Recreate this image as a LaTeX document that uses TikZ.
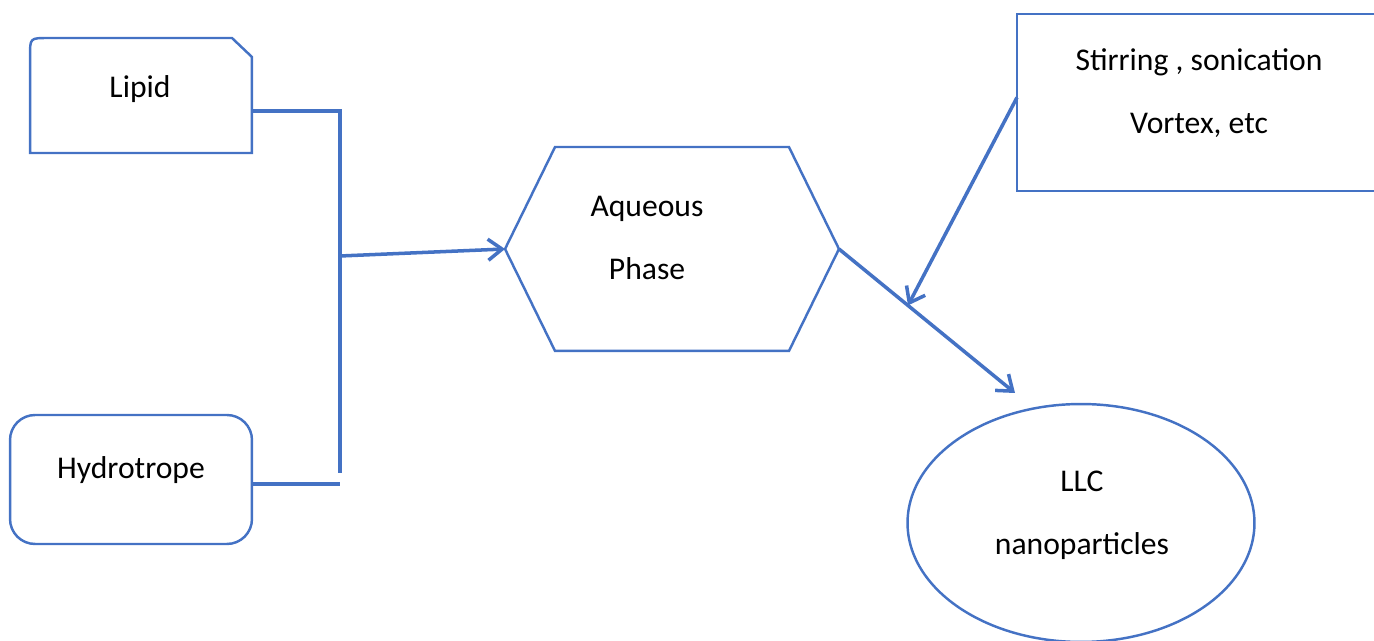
\documentclass[tikz,border=0pt]{standalone}
\usepackage{fontspec}
\setmainfont{Carlito}
\usetikzlibrary{arrows.meta,shapes.geometric,calc}
\definecolor{wordblue}{HTML}{4472C4}
\tikzset{
  outline/.style={draw=wordblue, line width=1.4pt},
  link/.style={draw=wordblue, line width=2pt},
  openarrow/.style={-{Straight Barb[length=8pt,width=12pt,line width=2pt]}},
  txt/.style={font=\fontsize{18}{36}\selectfont, inner sep=0pt, align=center},
  every node/.append style={outer sep=0pt}
}
\begin{document}
\begin{tikzpicture}[x=0.02cm, y=-0.02cm]
    \useasboundingbox (0,0) rectangle (1374,641);

    % shapes
    \node[minimum width=4.44cm, minimum height=2.3cm] (lipid) at (141,95.5) {};
    \draw[outline] (lipid.south west) -- ($(lipid.north west)+(0,18)$)
        .. controls (lipid.north west) .. ($(lipid.north west)+(18,0)$)
        -- ($(lipid.north east)+(-20,0)$) -- ($(lipid.north east)+(0,19)$)
        -- (lipid.south east) -- cycle;
    \node[outline, rounded corners=0.5cm, minimum width=4.84cm, minimum height=2.58cm] (hydro) at (131,479.5) {};
    \node[minimum width=6.68cm, minimum height=4.08cm] (aq) at (672,249) {};
    \draw[outline] (aq.west) -- ($(aq.north west)+(50,0)$) -- ($(aq.north east)+(-50,0)$)
        -- (aq.east) -- ($(aq.south east)+(-50,0)$) -- ($(aq.south west)+(50,0)$) -- cycle;
    \node[outline, anchor=north west, minimum width=7.4cm, minimum height=3.54cm] (stir) at (1017,14) {};
    \node[outline, ellipse, minimum width=6.94cm, minimum height=4.76cm] (llc) at (1081,523) {};

    % texts
    \node[txt] (lipidtxt) at (140,89) {Lipid};
    \node[txt] (hydrotxt) at (131,470) {Hydrotrope};
    \node[txt] (aqtxt) at (647,238) {Aqueous\\Phase};
    \node[txt] (stirtxt) at (1199,93) {Stirring , sonication\\Vortex, etc};
    \node[txt] (llctxt) at (1082,515) {LLC\\nanoparticles};

    % connectors
    \coordinate (lj) at (340,111);
    \coordinate (hj) at (340,484);
    \coordinate (vend) at (340,473);
    \coordinate (mj) at (340,256);
    \coordinate (llctip) at (1015,393);
    \coordinate (mix) at ($(aq.east)!0.392!(llctip)$);

    \draw[link] (lipid.east |- lj) -- (lj) -- (vend);
    \draw[link] (hydro.east |- hj) -- (hj);
    \draw[link, openarrow] (mj) -- (aq.west);
    \draw[link, openarrow] (aq.east) -- (llctip);
    \draw[link, openarrow] ($(stir.west)+(0,-5)$) -- (mix);
\end{tikzpicture}
\end{document}
